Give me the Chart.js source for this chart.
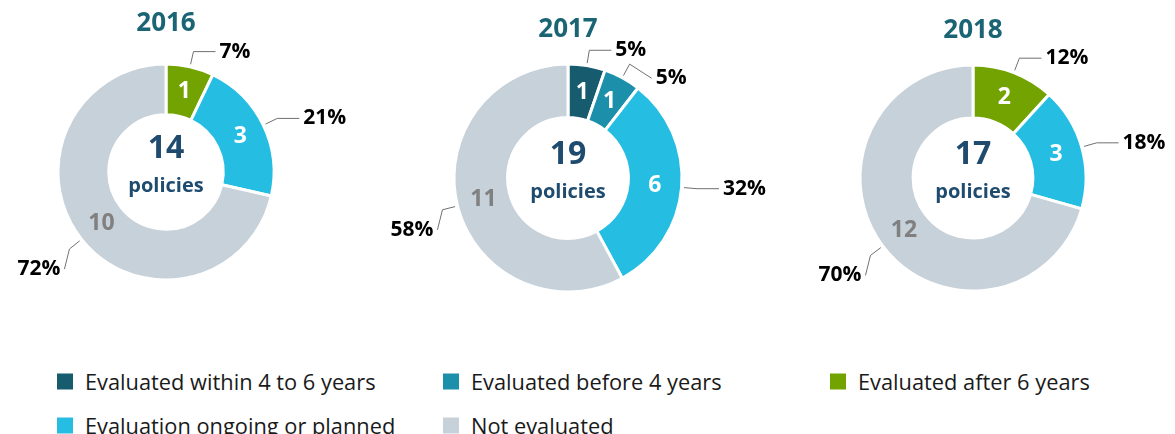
<!DOCTYPE html>
<html lang="en">
<head>
  <meta charset="UTF-8" />
  <title>Policy evaluations 2016-2018</title>
  <script src="https://cdn.jsdelivr.net/npm/chart.js"></script>
  <style>
    body { margin: 0; background: #fff; font-family: "Open Sans", sans-serif; }
    #wrap { position: relative; width: 1175px; height: 434px; overflow: hidden; }
    #wrap canvas { position: absolute; top: 0; }
    .key { position: absolute; display: flex; align-items: center; font-size: 21.8px; color: #1a1a1a; white-space: nowrap; transform: translateY(-50%); }
    .key .sw { width: 16px; height: 16px; margin-right: 12px; flex: none; }
  </style>
</head>
<body>
  <div id="wrap"></div>

  <script>
    // data
    const categories = [
      "Evaluated within 4 to 6 years",
      "Evaluated before 4 years",
      "Evaluated after 6 years",
      "Evaluation ongoing or planned",
      "Not evaluated"
    ];
    const years = ["2016", "2017", "2018"];
    const counts2016 = [0, 0, 1, 3, 10];
    const counts2017 = [1, 1, 0, 6, 11];
    const counts2018 = [0, 0, 2, 3, 12];
    const shares2016 = ["", "", "7%", "21%", "72%"];
    const shares2017 = ["5%", "5%", "", "32%", "58%"];
    const shares2018 = ["", "", "12%", "18%", "70%"];

    // styling / layout
    const colors = ["#165b6e", "#1c90aa", "#73a300", "#26bde2", "#c6d1da"];
    const panels = [
      { year: years[0], counts: counts2016, shares: shares2016, cx: 165.5, cy: 172, r: 108, titleY: 24 },
      { year: years[1], counts: counts2017, shares: shares2017, cx: 568, cy: 178, r: 114, titleY: 30 },
      { year: years[2], counts: counts2018, shares: shares2018, cx: 973, cy: 178, r: 113, titleY: 31 }
    ];
    const legendCols = [57, 443, 830];
    const legendRows = [381, 425];
    const CW = 400, CH = 310, BW = 3;

    const wrap = document.getElementById("wrap");

    const sliceLabels = {
      id: "sliceLabels",
      afterDatasetsDraw(chart, args, opts) {
        const ctx = chart.ctx;
        const meta = chart.getDatasetMeta(0);
        const data = chart.data.datasets[0].data;
        const labels = [];
        let cx = 0, cy = 0;
        ctx.save();
        meta.data.forEach((arc, i) => {
          const v = data[i];
          if (!v) return;
          const p = arc.getProps(["x", "y", "startAngle", "endAngle", "innerRadius", "outerRadius"], true);
          cx = p.x; cy = p.y;
          const mid = (p.startAngle + p.endAngle) / 2;
          const c = Math.cos(mid), s = Math.sin(mid);
          const rm = (p.innerRadius + p.outerRadius) / 2;
          ctx.fillStyle = i === 4 ? "#808080" : "#ffffff";
          ctx.font = "bold 23px 'Open Sans'";
          ctx.textAlign = "center";
          ctx.textBaseline = "middle";
          ctx.fillText(String(v), p.x + c * rm, p.y + s * rm);

          const R = p.outerRadius + BW / 2;
          labels.push({
            text: opts.shares[i],
            side: c >= 0 ? 1 : -1,
            ax: p.x + c * (R + 1), ay: p.y + s * (R + 1),
            bx: p.x + c * (R + 14), by: p.y + s * (R + 14)
          });
        });

        // right side: horizontal tail, pushed apart if crowded
        // left side: tail drops downwards
        const right = labels.filter(l => l.side > 0).sort((a, b) => a.by - b.by);
        let prev = -Infinity;
        right.forEach(l => {
          l.ex = l.bx + 22;
          l.ey = Math.max(l.by, prev + 28);
          prev = l.ey;
        });
        labels.filter(l => l.side < 0).forEach(l => {
          l.ex = l.bx - 5;
          l.ey = l.by + 20;
        });

        ctx.strokeStyle = "#707070";
        ctx.lineWidth = 1;
        ctx.font = "bold 21px 'Open Sans'";
        ctx.fillStyle = "#000";
        labels.forEach(l => {
          ctx.beginPath();
          ctx.moveTo(l.ax, l.ay);
          ctx.lineTo(l.bx, l.by);
          ctx.lineTo(l.ex, l.ey);
          ctx.stroke();
          ctx.textAlign = l.side > 0 ? "left" : "right";
          ctx.fillText(l.text, l.ex + l.side * 4, l.ey);
        });

        // total in the hole
        const total = data.reduce((a, b) => a + b, 0);
        ctx.fillStyle = "#1f4b6e";
        ctx.textAlign = "center";
        ctx.font = "bold 32px 'Open Sans'";
        ctx.fillText(String(total), cx, cy - 23);
        ctx.font = "bold 20px 'Open Sans'";
        ctx.fillText("policies", cx, cy + 14);
        ctx.restore();
      }
    };

    panels.forEach(pn => {
      const cv = document.createElement("canvas");
      cv.width = CW; cv.height = CH;
      cv.style.left = (pn.cx - CW / 2) + "px";
      wrap.appendChild(cv);

      const titleH = 26 * 1.2;
      const top = pn.cy - pn.r - BW / 2;
      const bottom = pn.cy + pn.r + BW / 2;

      new Chart(cv, {
        type: "doughnut",
        data: {
          labels: categories,
          datasets: [{
            data: pn.counts,
            backgroundColor: colors,
            borderColor: "#ffffff",
            borderWidth: BW
          }]
        },
        options: {
          responsive: false,
          animation: false,
          cutout: "53%",
          layout: { padding: { top: 0, left: 0, right: 0, bottom: CH - bottom } },
          plugins: {
            legend: { display: false },
            tooltip: { enabled: false },
            title: {
              display: true,
              text: pn.year,
              color: "#1b6474",
              font: { family: "'Open Sans'", size: 26, weight: "bold" },
              padding: { top: pn.titleY - titleH / 2, bottom: top - (pn.titleY + titleH / 2) }
            },
            sliceLabels: { shares: pn.shares }
          }
        },
        plugins: [sliceLabels]
      });
    });

    // legend
    categories.forEach((name, i) => {
      const item = document.createElement("div");
      item.className = "key";
      item.style.left = legendCols[i % 3] + "px";
      item.style.top = legendRows[Math.floor(i / 3)] + "px";
      item.innerHTML = `<span class="sw" style="background:${colors[i]}"></span><span>${name}</span>`;
      wrap.appendChild(item);
    });
  </script>
</body>
</html>
